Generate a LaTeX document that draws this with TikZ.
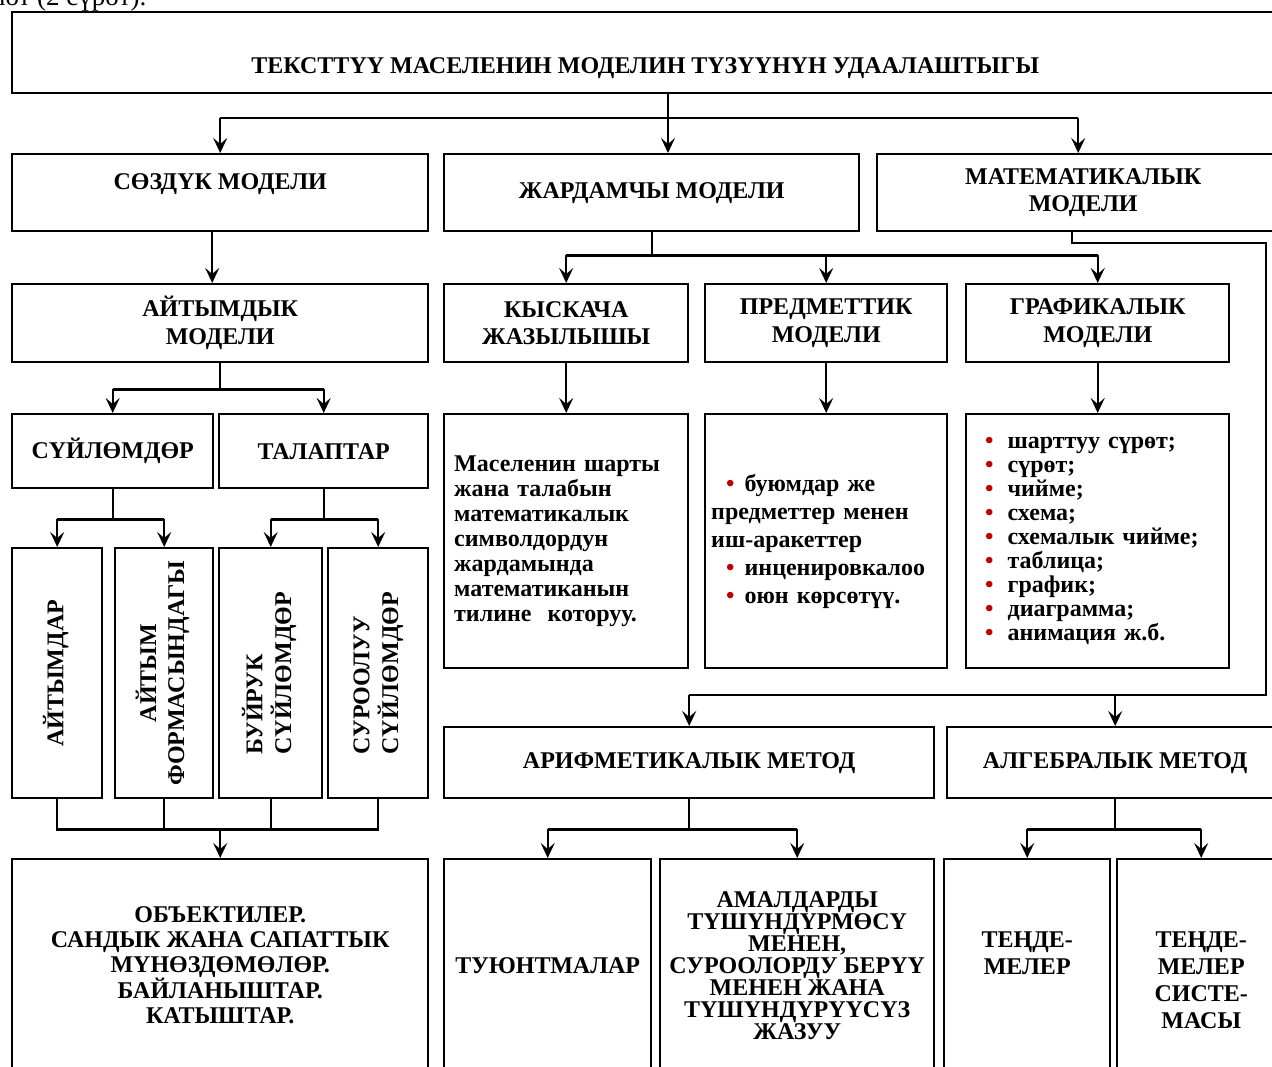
\documentclass[tikz,border=0pt]{standalone}
\usepackage{fontspec}
\setmainfont{Liberation Serif}
\usepackage{graphicx}
\usetikzlibrary{arrows.meta,positioning}

\definecolor{bulred}{RGB}{192,0,0}
\newcommand{\bul}{\textcolor{bulred}{•}}
\newcommand{\gitem}{\hspace*{9pt}\bul\hspace{14pt}}
\newcommand{\pitem}{\hspace*{15pt}\bul\hspace{10pt}}
\newcommand{\vlbl}[2][c]{\rotatebox{90}{\begin{tabular}{@{}#1@{}}#2\end{tabular}}}

\tikzset{
  box/.style={draw, line width=2.4pt, inner sep=0pt, align=center, anchor=north west},
  wh/.style 2 args={minimum width=#1, minimum height=#2},
  lh/.style={font=\fontsize{24}{#1}\selectfont\bfseries},
  conn/.style={line width=2.2pt},
  arr/.style={conn, -{Stealth[length=15pt, width=14pt, inset=6pt]}},
}

\begin{document}
\begin{tikzpicture}[x=1pt, y=-1pt, lh=27]
  \useasboundingbox (0,0) rectangle (1272,1066);

  % page text cut off above the figure
  \node[anchor=base east, font=\fontsize{27}{30}\selectfont] (pagetext) at (150,5) {болот (2 сүрөт).};

  % top
  \node[box, wh={1266}{81}, text height=45pt, text depth=4pt] (title) at (11,11) {ТЕКСТТҮҮ МАСЕЛЕНИН МОДЕЛИН ТҮЗҮҮНҮН УДААЛАШТЫГЫ};

  % models
  \node[box, wh={416}{77}, text height=10pt, text depth=17pt] (sozduk) at (11,153) {СӨЗДҮК МОДЕЛИ};
  \node[box, wh={415}{77}] (jardam) at (443,153) {ЖАРДАМЧЫ МОДЕЛИ};
  \node[box, wh={412}{77}] (matem) at (876,153) {МАТЕМАТИКАЛЫК\\МОДЕЛИ};

  % left branch
  \node[box, wh={416}{78}, lh=28] (aytym) at (11,283) {АЙТЫМДЫК\\МОДЕЛИ};
  \node[box, wh={201}{74}] (suylom) at (11,413) {СҮЙЛӨМДӨР};
  \node[box, wh={209}{74}] (talap) at (218,413) {ТАЛАПТАР};
  \node[box, wh={90}{250}] (v1) at (11,547) {\vlbl{АЙТЫМДАР}};
  \node[box, wh={98}{250}, lh=28] (v2) at (114,547) {\vlbl{АЙТЫМ\\ФОРМАСЫНДАГЫ}};
  \node[box, wh={103}{250}, lh=28] (v3) at (218,547) {\vlbl[l]{БУЙРУК\\СҮЙЛӨМДӨР}};
  \node[box, wh={100}{250}, lh=28] (v4) at (327,547) {\vlbl[l]{СУРООЛУУ\\СҮЙЛӨМДӨР}};
  \node[box, wh={416}{212}, lh=25] (objekt) at (11,858) {ОБЪЕКТИЛЕР.\\САНДЫК ЖАНА САПАТТЫК\\МҮНӨЗДӨМӨЛӨР.\\БАЙЛАНЫШТАР.\\КАТЫШТАР.};

  % middle branch
  \node[box, wh={244}{78}] (kysk) at (443,283) {КЫСКАЧА\\ЖАЗЫЛЫШЫ};
  \node[box, wh={242}{78}, lh=28] (predm) at (704,283) {ПРЕДМЕТТИК\\МОДЕЛИ};
  \node[box, wh={263}{78}, lh=28] (graf) at (965,283) {ГРАФИКАЛЫК\\МОДЕЛИ};
  \node[box, wh={244}{254}, lh=25, text width=224pt, align=left] (kysk-list) at (443,413) {Маселенин шарты\\жана талабын\\математикалык\\символдордун\\жардамында\\математиканын\\тилине\ \ которуу.};
  \node[box, wh={242}{254}, lh=28, text width=230pt, align=left] (predm-list) at (704,413) {\pitem буюмдар же\\предметтер менен\\иш-аракеттер\\\pitem инценировкалоо\\\pitem оюн көрсөтүү.};
  \node[box, wh={263}{254}, lh=24, text width=243pt, align=left] (graf-list) at (965,413) {\gitem шарттуу сүрөт;\\\gitem сүрөт;\\\gitem чийме;\\\gitem схема;\\\gitem схемалык чийме;\\\gitem таблица;\\\gitem график;\\\gitem диаграмма;\\\gitem анимация ж.б.};

  % methods
  \node[box, wh={490}{71}] (arifm) at (443,726) {АРИФМЕТИКАЛЫК МЕТОД};
  \node[box, wh={336}{71}] (algeb) at (946,726) {АЛГЕБРАЛЫК МЕТОД};
  \node[box, wh={207}{212}] (tuyunt) at (443,858) {ТУЮНТМАЛАР};
  \node[box, wh={274}{212}, lh=22] (amal) at (659,858) {АМАЛДАРДЫ\\ТҮШҮНДҮРМӨСҮ\\МЕНЕН,\\СУРООЛОРДУ БЕРҮҮ\\МЕНЕН ЖАНА\\ТҮШҮНДҮРҮҮСҮЗ\\ЖАЗУУ};
  \node[box, wh={166}{212}, text height=0pt, text depth=36pt] (tende) at (943,858) {\begin{tabular}[t]{@{}c@{}}ТЕҢДЕ-\\МЕЛЕР\end{tabular}};
  \node[box, wh={168}{212}, text height=0pt, text depth=36pt] (tsystem) at (1116,858) {\begin{tabular}[t]{@{}c@{}}ТЕҢДЕ-\\МЕЛЕР\\СИСТЕ-\\МАСЫ\end{tabular}};

  % connectors
  \coordinate (t0) at (668,118);
  \coordinate (mt) at ([xshift=-5pt]matem.north);
  \draw[conn] (title.south -| t0) -- (t0);
  \draw[conn] (t0 -| sozduk.north) -- (t0 -| mt);
  \draw[arr] (t0) -- (t0 |- jardam.north);
  \draw[arr] (t0 -| sozduk.north) -- (sozduk.north);
  \draw[arr] (t0 -| mt) -- (mt);

  \draw[arr] ([xshift=-8pt]sozduk.south) -- ([xshift=-8pt]aytym.north);

  \coordinate (a0) at ([yshift=-26pt]aytym.south);
  \draw[conn] (aytym.south) -- (a0);
  \draw[conn] (a0 -| suylom.north) -- (a0 -| talap.north);
  \foreach \n in {suylom,talap}
    \draw[arr] (a0 -| \n.north) -- (\n.north);

  \coordinate (s0) at ([yshift=-30pt]suylom.south);
  \draw[conn] (suylom.south) -- (s0);
  \draw[conn] (s0 -| v1.north) -- (s0 -| v2.north);
  \foreach \n in {v1,v2}
    \draw[arr] (s0 -| \n.north) -- (\n.north);
  \coordinate (s1) at ([yshift=-30pt]talap.south);
  \draw[conn] (talap.south) -- (s1);
  \draw[conn] (s1 -| v3.north) -- (s1 -| v4.north);
  \foreach \n in {v3,v4}
    \draw[arr] (s1 -| \n.north) -- (\n.north);

  \coordinate (b0) at ([yshift=-30pt]v1.south);
  \draw[conn] (v1.south) |- (v4.south |- b0) -- (v4.south);
  \foreach \n in {v2,v3}
    \draw[conn] (\n.south) -- (\n.south |- b0);
  \draw[arr] (objekt.north |- b0) -- (objekt.north);

  \coordinate (j0) at ([yshift=-23pt]jardam.south);
  \draw[conn] (jardam.south) -- (j0);
  \draw[conn] (j0 -| kysk.north) -- (j0 -| graf.north);
  \foreach \n in {kysk,predm,graf} {
    \draw[arr] (j0 -| \n.north) -- (\n.north);
    \draw[arr] (\n.south) -- (\n-list.north);
  }

  \coordinate (m1) at (1072,243);
  \coordinate (m2) at (1266,695);
  \draw[conn] (matem.south -| m1) -- (m1) -| (m2) -- (m2 -| arifm.north);
  \draw[arr] (m2 -| arifm.north) -- (arifm.north);
  \draw[arr] (m2 -| algeb.north) -- (algeb.north);

  \coordinate (r0) at ([yshift=-30pt]arifm.south);
  \draw[conn] (arifm.south) -- (r0);
  \draw[conn] (r0 -| tuyunt.north) -- (r0 -| amal.north);
  \foreach \n in {tuyunt,amal}
    \draw[arr] (r0 -| \n.north) -- (\n.north);
  \coordinate (g0) at ([yshift=-30pt]algeb.south);
  \draw[conn] (algeb.south) -- (g0);
  \draw[conn] (g0 -| tende.north) -- (g0 -| tsystem.north);
  \foreach \n in {tende,tsystem}
    \draw[arr] (g0 -| \n.north) -- (\n.north);
\end{tikzpicture}
\end{document}
